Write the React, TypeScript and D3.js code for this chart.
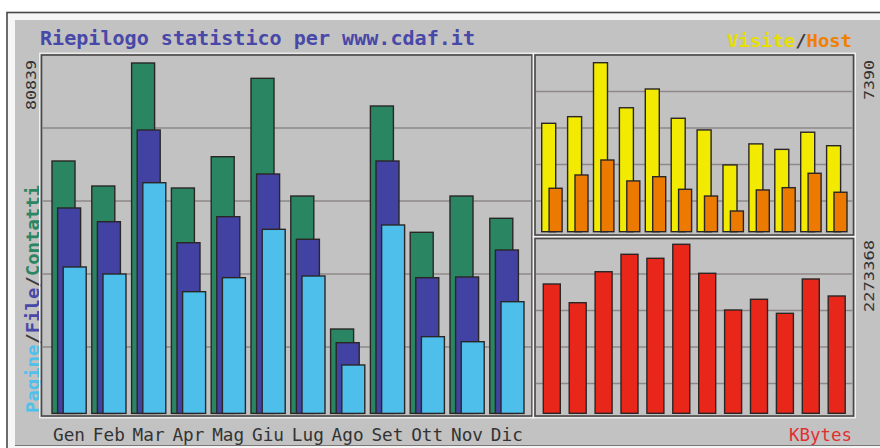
import React from "react";
import * as d3 from "d3";

const months = ["Gen", "Feb", "Mar", "Apr", "Mag", "Giu", "Lug", "Ago", "Set", "Ott", "Nov", "Dic"];
const contatti = [58230, 52460, 80839, 52000, 59220, 77300, 50150, 19470, 70920, 41780, 50150, 45010];
const fileVals = [47390, 44230, 65380, 39380, 45380, 55230, 40170, 16310, 58230, 31310, 31470, 37700];
const pagine = [33780, 32160, 53220, 28080, 31310, 42470, 31700, 11170, 43470, 17700, 16540, 25770];
const visite = [4740, 5030, 7390, 5420, 6240, 4960, 4450, 2920, 3840, 3600, 4350, 3760];
const host = [1900, 2480, 3135, 2220, 2405, 1855, 1560, 905, 1825, 1925, 2555, 1725];
const kbytes = [1739300, 1487800, 1904800, 2138800, 2085100, 2273368, 1883300, 1389500, 1533600, 1345200, 1806600, 1577900];
const leftMaxLabel = "80839";
const visMaxLabel = "7390";
const kbMaxLabel = "2273368";

const C = {
  bg: "#c2c2c2",
  frame: "#4a4646",
  grid: "#8e8888",
  barStroke: "#2a2626",
  green: "#2a8662",
  blue: "#4242a2",
  light: "#4ebeea",
  yellow: "#f2ea00",
  orange: "#ec7a00",
  red: "#e8261a",
  title: "#4848a8",
  text: "#333333",
};

const FONT = "'DejaVu Sans Mono', monospace";

function Frame({ x, y, w, h }: { x: number; y: number; w: number; h: number }) {
  return (
    <g>
      <rect x={x - 1.8} y={y - 1.8} width={w + 3.6} height={h + 3.6} fill="none" stroke="#f4f4f4" strokeWidth={1.2} />
      <rect x={x} y={y} width={w} height={h} fill={C.bg} stroke={C.frame} strokeWidth={1.6} />
    </g>
  );
}

export default function App() {
  // shared grid
  const gridY = d3.scaleLinear().domain([0, 10]).range([55, 420]);

  // left chart
  const L = { x: 41.5, y: 55, w: 490.5, h: 361 };
  const xL = d3.scaleBand<string>().domain(months).range([49, 49 + 12 * 39.8]).padding(0);
  const sL = d3.scalePoint<string>().domain(["Contatti", "File", "Pagine"]).range([3, 14.2]);
  const yL = d3.scaleLinear().domain([0, 80839]).range([413.4, 63]);
  const wL = 23;

  // top right
  const TR = { x: 535, y: 55, w: 318.5, h: 180 };
  const xTR = d3.scaleBand<string>().domain(months).range([538.5, 538.5 + 12 * 25.9]).padding(0);
  const sTR = d3.scalePoint<string>().domain(["Visite", "Host"]).range([3.2, 10.6]);
  const yTR = d3.scaleLinear().domain([0, 7390]).range([231.7, 62.7]);

  // bottom right
  const BR = { x: 535, y: 238.5, w: 318.5, h: 177.5 };
  const xBR = d3.scaleBand<string>().domain(months).range([540, 540 + 12 * 25.9]).padding(0);
  const yBR = d3.scaleLinear().domain([0, 2273368]).range([413.3, 244.3]);

  const bar = (x: number, y0: number, y1: number, w: number, fill: string, key: string) => (
    <rect key={key} x={x} y={y1} width={w} height={y0 - y1} fill={fill} stroke={C.barStroke} strokeWidth={1.4} />
  );

  const leftSeries: [string, number[], string][] = [
    ["Contatti", contatti, C.green],
    ["File", fileVals, C.blue],
    ["Pagine", pagine, C.light],
  ];

  return (
    <svg width={880} height={448} style={{ position: "absolute", left: 0, top: 0 }} xmlns="http://www.w3.org/2000/svg">
      <rect x={0} y={0} width={880} height={448} fill="#ffffff" />
      <rect x={7} y={12.5} width={880} height={440} fill="#f6f6f6" stroke={C.frame} strokeWidth={1.6} />
      <rect x={15} y={20} width={870} height={425} fill={C.bg} />
      <line x1={15} x2={880} y1={445.5} y2={445.5} stroke="#7a7676" strokeWidth={1.2} />

      {/* Title */}
      <text x={40} y={45} fontFamily={FONT} fontWeight="bold" fontSize={19} fill={C.title} textLength={435} lengthAdjust="spacingAndGlyphs">
        Riepilogo statistico per www.cdaf.it
      </text>

      {/* Visite/Host legend */}
      <text x={727} y={47} fontFamily={FONT} fontWeight="bold" fontSize={18} textLength={125} lengthAdjust="spacingAndGlyphs">
        <tspan fill="#e6de00">Visite</tspan>
        <tspan fill="#3a3a3a">/</tspan>
        <tspan fill="#f08000">Host</tspan>
      </text>

      {/* KBytes legend */}
      <text x={789} y={441} fontFamily={FONT} fontSize={18} fill="#e03030" textLength={63} lengthAdjust="spacingAndGlyphs">
        KBytes
      </text>

      {/* Left vertical legend */}
      <text transform="translate(38.5,413) rotate(-90)" fontFamily={FONT} fontWeight="bold" fontSize={18} textLength={228} lengthAdjust="spacingAndGlyphs">
        <tspan fill="#50c0ea">Pagine</tspan>
        <tspan fill="#3a3a3a">/</tspan>
        <tspan fill={C.title}>File</tspan>
        <tspan fill="#3a3a3a">/</tspan>
        <tspan fill={C.green}>Contatti</tspan>
      </text>

      {/* Max labels */}
      <text transform="translate(35.5,110) rotate(-90)" fontFamily={FONT} fontSize={14} fill={C.text} textLength={50} lengthAdjust="spacingAndGlyphs">
        {leftMaxLabel}
      </text>
      <text transform="translate(873.5,100) rotate(-90)" fontFamily={FONT} fontSize={14} fill={C.text} textLength={40} lengthAdjust="spacingAndGlyphs">
        {visMaxLabel}
      </text>
      <text transform="translate(873.5,312) rotate(-90)" fontFamily={FONT} fontSize={14} fill={C.text} textLength={72} lengthAdjust="spacingAndGlyphs">
        {kbMaxLabel}
      </text>

      {/* Left chart */}
      <Frame {...L} />
      {[2, 4, 6, 8].map((i) => (
        <line key={"gl" + i} x1={L.x + 1} x2={L.x + L.w - 1} y1={gridY(i)} y2={gridY(i)} stroke={C.grid} strokeWidth={1.5} />
      ))}
      {leftSeries.map(([name, vals, color]) =>
        months.map((m, i) => bar((xL(m) as number) + (sL(name) as number), yL(0), yL(vals[i]), wL, color, name + m))
      )}

      {/* Top right chart */}
      <Frame {...TR} />
      {[1, 2, 3, 4].map((i) => (
        <line key={"gt" + i} x1={TR.x + 1} x2={TR.x + TR.w - 1} y1={gridY(i)} y2={gridY(i)} stroke={C.grid} strokeWidth={1.5} />
      ))}
      {months.map((m, i) => bar((xTR(m) as number) + (sTR("Visite") as number), yTR(0), yTR(visite[i]), 14, C.yellow, "v" + m))}
      {months.map((m, i) => bar((xTR(m) as number) + (sTR("Host") as number), yTR(0), yTR(host[i]), 13, C.orange, "h" + m))}

      {/* Bottom right chart */}
      <Frame {...BR} />
      {[6, 7, 8, 9].map((i) => (
        <line key={"gb" + i} x1={BR.x + 1} x2={BR.x + BR.w - 1} y1={gridY(i)} y2={gridY(i)} stroke={C.grid} strokeWidth={1.5} />
      ))}
      {months.map((m, i) => bar((xBR(m) as number) + 3.3, yBR(0), yBR(kbytes[i]), 17, C.red, "k" + m))}

      {/* Month labels */}
      {months.map((m) => (
        <text key={"ml" + m} x={(xL(m) as number) + 20} y={441} textAnchor="middle" fontFamily={FONT} fontSize={17.5} fill={C.text} textLength={32} lengthAdjust="spacingAndGlyphs">
          {m}
        </text>
      ))}
    </svg>
  );
}
